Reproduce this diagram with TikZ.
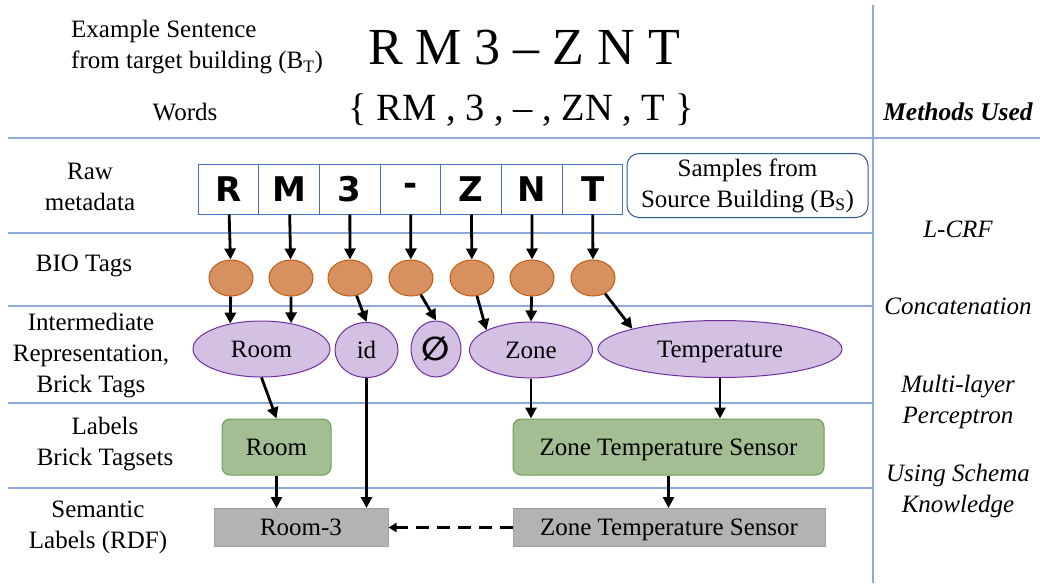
\documentclass[tikz,border=0pt]{standalone}
\usepackage{fontspec}
\setmainfont{Liberation Serif}
\newfontfamily\cellfont{DejaVu Sans}
\usetikzlibrary{shapes,arrows,arrows.meta,positioning}

\begin{document}
\begin{tikzpicture}[x=1pt,y=-1pt,
		txt/.style={font=\fontsize{25}{31}\selectfont,align=center,inner sep=0pt},
		method/.style={font=\fontsize{25}{31}\selectfont\itshape,align=center,inner sep=0pt},
		cell/.style={draw=cellblue,line width=1pt,minimum width=60.7pt,minimum height=50pt,inner sep=0pt,font=\cellfont\bfseries\fontsize{34}{34}\selectfont},
		bio/.style={ellipse,draw=bioline,fill=biofill,line width=1pt,minimum width=44pt,minimum height=36pt,inner sep=0pt},
		tag/.style={ellipse,draw=tagline,fill=tagfill,line width=1pt,minimum height=56pt,inner sep=0pt,text depth=0pt,font=\fontsize{25}{31}\selectfont},
		tagset/.style={draw=setline,fill=setfill,line width=1pt,rounded corners=8pt,minimum height=56pt,inner sep=0pt,text depth=0pt,font=\fontsize{25}{31}\selectfont},
		rdf/.style={draw=rdfline,fill=rdffill,line width=1pt,minimum height=38pt,inner sep=0pt,text depth=0pt,font=\fontsize{25}{31}\selectfont},
		arr/.style={-{Triangle[length=11pt,width=11pt]},line width=2.8pt},
		sep/.style={draw=lineblue,line width=1.5pt}]
		\definecolor{lineblue}{RGB}{142,169,219}
		\definecolor{cellblue}{RGB}{68,114,196}
		\definecolor{boxblue}{RGB}{47,85,151}
		\definecolor{biofill}{RGB}{215,145,96}
		\definecolor{bioline}{RGB}{197,90,17}
		\definecolor{tagfill}{RGB}{212,192,227}
		\definecolor{tagline}{RGB}{112,48,160}
		\definecolor{setfill}{RGB}{164,190,148}
		\definecolor{setline}{RGB}{110,156,84}
		\definecolor{rdffill}{RGB}{179,179,179}
		\definecolor{rdfline}{RGB}{160,160,160}
		\useasboundingbox (0,0) rectangle (1040,583);

		\draw[sep] (8,138) -- (1040,138);
		\draw[sep] (8,233) -- (873,233);
		\draw[sep] (8,306) -- (873,306);
		\draw[sep] (8,403) -- (873,403);
		\draw[sep] (8,488) -- (873,488);
		\draw[sep] (873,5) -- (873,583);

		\node[txt,anchor=west,align=left] (sentlbl) at (71,47) {Example Sentence\\from target building (B\textsubscript{T})};
		\node[inner sep=0pt,font=\fontsize{52}{52}\selectfont] (sentence) at (524,48) {R M 3 -- Z N T};
		\node[txt] (wordslbl) at (185,112) {Words};
		\node[inner sep=0pt,font=\fontsize{38.5}{38.5}\selectfont] (words) at (521,110) {\{ RM , 3 , -- , ZN , T \}};
		\node[method,font=\fontsize{25.5}{30}\selectfont\bfseries\itshape] (methods) at (958,112) {Methods Used};

		\node[txt] (rawlbl) at (90,187) {Raw\\metadata};
		\node[txt] (biolbl) at (84,266) {BIO Tags};
		\node[txt] (irlbl) at (91,356) {Intermediate\\Representation,\\Brick Tags};
		\node[txt] (setlbl) at (105,444) {Labels\\Brick Tagsets};
		\node[txt] (rdflbl) at (98,527) {Semantic\\Labels (RDF)};

		\node[method] (lcrf) at (958,229) {L-CRF};
		\node[method] (concat) at (958,306) {Concatenation};
		\node[method] (mlp) at (958,402) {Multi-layer\\Perceptron};
		\node[method] (schema) at (958,491) {Using Schema\\Knowledge};

		\node[cell] (cR) at (228.4,189) {R};
		\node[cell] (cM) at (289.1,189) {M};
		\node[cell] (c3) at (349.8,189) {3};
		\node[cell] (cD) at (410.5,189) {-};
		\node[cell] (cZ) at (471.2,189) {Z};
		\node[cell] (cN) at (531.9,189) {N};
		\node[cell] (cT) at (592.6,189) {T};
		\node[txt,draw=boxblue,line width=1pt,rounded corners=12pt,minimum width=241pt,minimum height=64pt] (samples) at (747.5,185.5) {Samples from\\Source Building (B\textsubscript{S})};

		\node[bio] (bR) at (231,278) {};
		\node[bio] (bM) at (291,278) {};
		\node[bio] (b3) at (350,278) {};
		\node[bio] (bD) at (411,278) {};
		\node[bio] (bZ) at (472,278) {};
		\node[bio] (bN) at (532,278) {};
		\node[bio] (bT) at (593,278) {};

		\node[tag,minimum width=137pt] (room) at (261.5,349) {Room};
		\node[tag,minimum width=63pt,minimum height=55pt] (id) at (366.5,350) {id};
		\node[tag,minimum width=50pt,font=\cellfont\bfseries\fontsize{33}{33}\selectfont] (empty) at (436,349) {∅};
		\node[tag,minimum width=123pt] (zone) at (531,350) {Zone};
		\node[tag,minimum width=244pt,minimum height=57pt] (temp) at (720,349) {Temperature};

		\node[tagset,minimum width=109pt] (roomset) at (276.5,447) {Room};
		\node[tagset,minimum width=311pt] (ztsset) at (668.5,447) {Zone Temperature Sensor};

		\node[rdf,minimum width=174pt] (roomrdf) at (301,527.5) {Room-3};
		\node[rdf,minimum width=312pt] (ztsrdf) at (669,527.5) {Zone Temperature Sensor};

		\draw[arr] (cR) -- (bR);
		\draw[arr] (cM) -- (bM);
		\draw[arr] (c3) -- (b3);
		\draw[arr] (cD) -- (bD);
		\draw[arr] (cZ) -- (bZ);
		\draw[arr] (cN) -- (bN);
		\draw[arr] (cT) -- (bT);

		\draw[arr] (bR) -- (room.141);
		\draw[arr] (bM) -- (room.41);
		\draw[arr] (b3) -- (id.north);
		\draw[arr] (bD) -- (empty.north);
		\draw[arr] (bZ) -- (zone.156);
		\draw[arr] (bN) -- (zone.north);
		\draw[arr] (bT) -- (temp.167);

		\draw[arr] (room.south) -- (roomset.north);
		\draw[arr] (zone.south) -- (zone.south |- ztsset.north);
		\draw[arr] (temp.south) -- (temp.south |- ztsset.north);
		\draw[arr] (id.south) -- (id.south |- roomrdf.north);
		\draw[arr] (roomset.south) -- (roomset.south |- roomrdf.north);
		\draw[arr] (ztsset.south) -- (ztsset.south |- ztsrdf.north);
		\draw[-{Triangle[length=8pt,width=9pt]},line width=2.6pt,dash pattern=on 13pt off 8pt] (ztsrdf.west) -- (roomrdf.east);
	\end{tikzpicture}
\end{document}
